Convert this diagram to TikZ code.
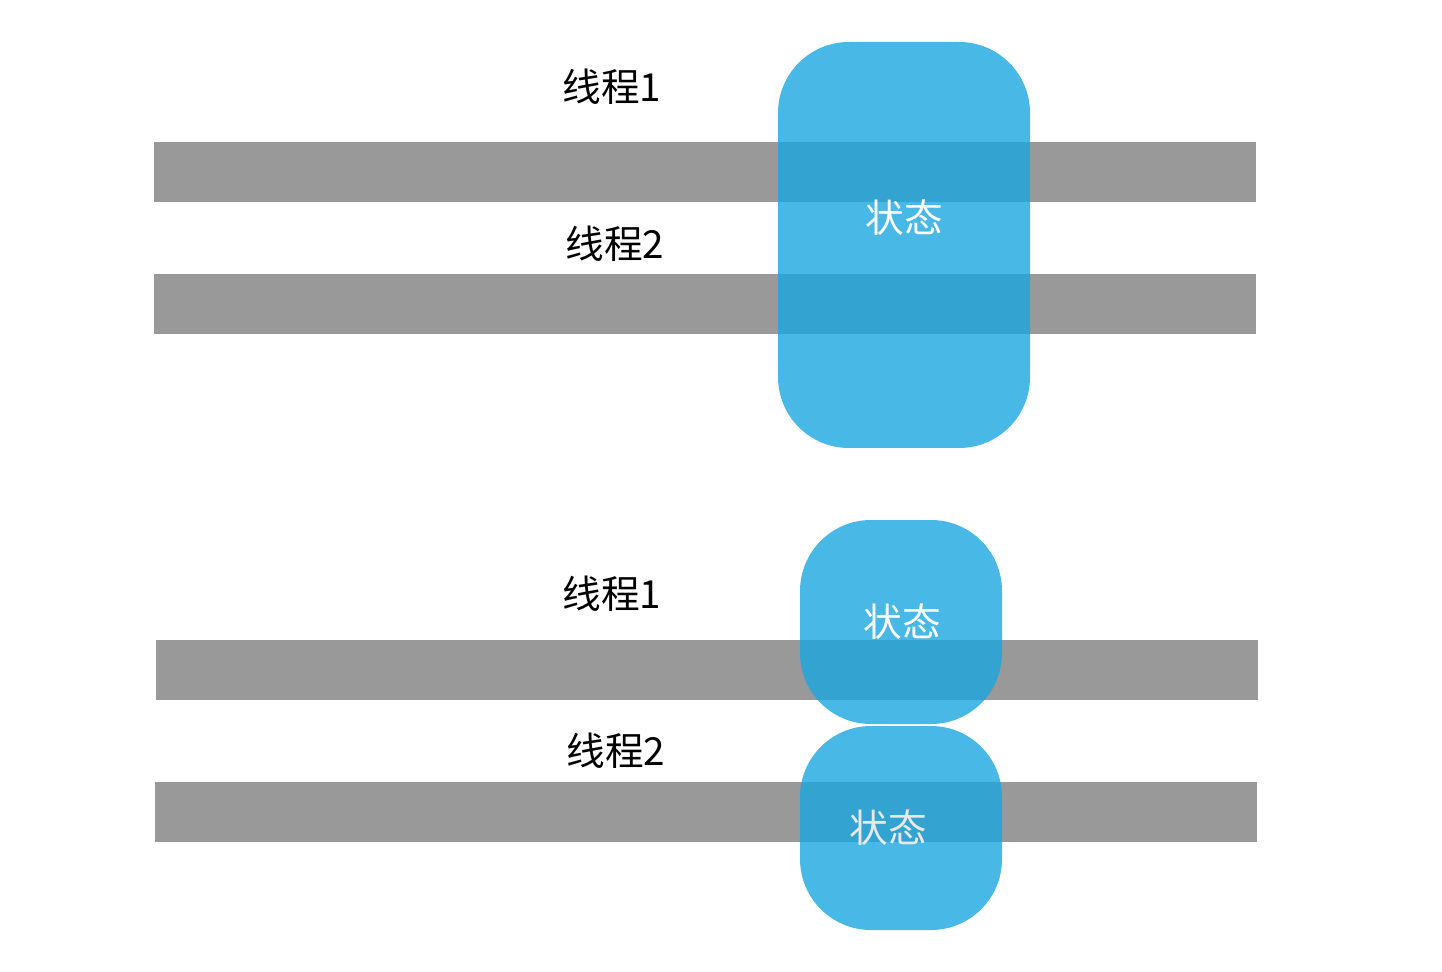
\documentclass[tikz,border=0pt]{standalone}
\usepackage{fontspec}
\usepackage{xcolor}
\newfontfamily\cjk{Noto Sans CJK SC}
\definecolor{bargray}{HTML}{999999}
\definecolor{stateblue}{RGB}{26,167,224}
\definecolor{dimwhite}{RGB}{232,232,232}

\begin{document}
\begin{tikzpicture}[x=0.02cm, y=-0.02cm,
    bar/.style={fill=bargray},
    statebox/.style={fill=stateblue, fill opacity=0.8, rounded corners=1.42cm},
    threadtext/.style={font=\cjk\fontsize{22}{26}\selectfont, text=black, inner sep=0pt},
    statetext/.style={font=\cjk\fontsize{22}{26}\selectfont, text=white, inner sep=0pt}]
    \useasboundingbox (0,0) rectangle (1442,972);

    % Upper case: one state shared by both threads
    \fill[bar] (154,142) rectangle (1256,202);
    \fill[bar] (154,274) rectangle (1256,334);
    \fill[statebox] (778,42) rectangle (1030,448);
    \node[threadtext] (upThreadA) at (612,87) {线程1};
    \node[threadtext] (upThreadB) at (615,244) {线程2};
    \node[statetext] (upState) at (904,218) {状态};

    % Lower case: each thread has its own state
    \fill[bar] (156,640) rectangle (1258,700);
    \fill[bar] (155,782) rectangle (1257,842);
    \fill[statebox] (800,520) rectangle (1002,724);
    \fill[statebox] (800,726) rectangle (1002,930);
    \node[threadtext] (lowThreadA) at (612,594) {线程1};
    \node[threadtext] (lowThreadB) at (616,751) {线程2};
    \node[statetext] (lowStateA) at (902,622) {状态};
    \node[statetext, text=dimwhite] (lowStateB) at (888,828) {状态};
\end{tikzpicture}
\end{document}
